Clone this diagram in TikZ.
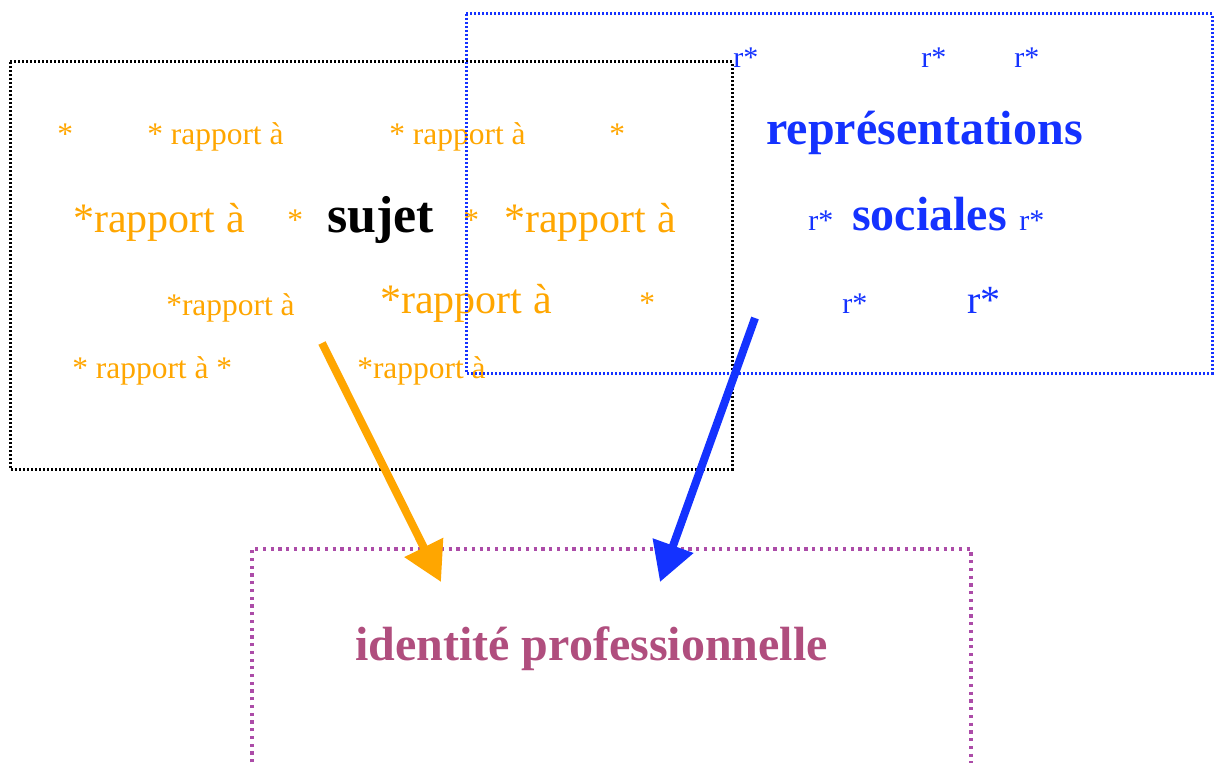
\documentclass[tikz,border=0pt]{standalone}
\usepackage{fontspec}
\setmainfont{Liberation Serif}
\usetikzlibrary{arrows.meta}
\definecolor{rorange}{RGB}{255,166,0}
\definecolor{rblue}{RGB}{20,50,255}
\definecolor{rmauve}{RGB}{172,76,168}
\definecolor{rwine}{RGB}{176,78,126}
\tikzset{%
    txt/.style={inner sep=0pt,anchor=base west}
}

\begin{document}
\begin{tikzpicture}[
        x=0.75pt,y=-0.75pt,
        sm/.style={txt,text=rorange,font=\fontsize{23.6}{24}\selectfont},
        lg/.style={txt,text=rorange,font=\fontsize{31.5}{32}\selectfont},
        rs/.style={txt,text=rblue,font=\fontsize{22.5}{23}\selectfont},
        rl/.style={txt,text=rblue,font=\fontsize{30}{31}\selectfont},
        big/.style={txt,font=\fontsize{36}{37}\selectfont\bfseries},
        frame/.style={line width=2.25pt,dash pattern=on 1.5pt off 1.5pt},
        link/.style={line width=6pt,-{Triangle[length=29pt,width=31pt]}}
        ]
        \useasboundingbox (0,0) rectangle (1223,763);

        % sujet side
        \node[sm] (s1) at (57,145) {*};
        \node[sm] (s2) at (147,145) {* rapport à};
        \node[sm] (s3) at (389,145) {* rapport à};
        \node[sm] (s4) at (609,145) {*};
        \node[lg] (s5) at (73,232) {*rapport à};
        \node[sm] (s6) at (287,230) {*};
        \node[big,font=\fontsize{39}{40}\selectfont\bfseries] (sujet) at (327,232) {sujet};
        \node[sm] (s7) at (463,230) {*};
        \node[lg] (s8) at (504,232) {*rapport à};
        \node[sm] (s9) at (166,315) {*rapport à};
        \node[lg] (s10) at (380,313) {*rapport à};
        \node[sm] (s11) at (639,313) {*};
        \node[sm] (s12) at (72,378) {* rapport à *};
        \node[sm] (s13) at (357,378) {*rapport à};

        % representations side
        \node[rs] (r1) at (733,68) {r*};
        \node[rs] (r2) at (921,68) {r*};
        \node[rs] (r3) at (1014,68) {r*};
        \node[big,text=rblue] (rep) at (766,145) {représentations};
        \node[rs] (r4) at (808,230) {r*};
        \node[big,text=rblue] (soc) at (852,230) {sociales};
        \node[rs] (r5) at (1019,230) {r*};
        \node[rs] (r6) at (842,313) {r*};
        \node[rl] (r7) at (967,313) {r*};

        % identite
        \node[big,text=rwine] (ident) at (355,660) {identité professionnelle};

        \draw[frame,black] (10,62) rectangle (732,469);
        \draw[frame,rblue] (466,14) rectangle (1212,373);
        \draw[line width=2.4pt,rmauve,dash pattern=on 2.4pt off 3.4pt]
            (252,770) -- (252,549) -- (971,549) -- (971,770);

        \coordinate (ostart) at (322,343);
        \coordinate (oend) at (441,582);
        \coordinate (bstart) at (755,318);
        \coordinate (bend) at (660,582);
        \draw[link,rorange] (ostart) -- (oend);
        \draw[link,rblue] (bstart) -- (bend);
\end{tikzpicture}
\end{document}
